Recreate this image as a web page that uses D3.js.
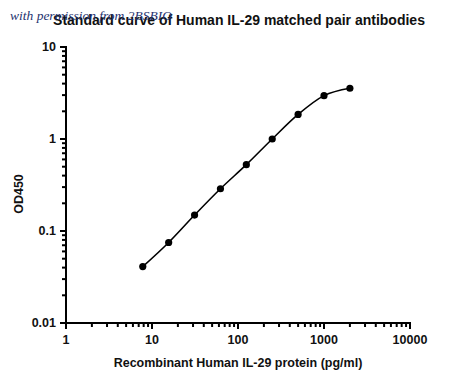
<!DOCTYPE html>
<meta charset="utf-8">
<script src="https://d3js.org/d3.v7.min.js"></script>
<style>
  body { margin: 0; background: #fff; overflow: hidden; }
  svg { display: block; }
</style>
<div id="chart"></div>
<script>

// standard curve data
var conc = [7.8125, 15.625, 31.25, 62.5, 125, 250, 500, 1000, 2000];
var od = [0.041, 0.075, 0.149, 0.288, 0.526, 1.0, 1.85, 2.96, 3.56];
var xTicks = [1, 10, 100, 1000, 10000];
var xTickLabels = ["1", "10", "100", "1000", "10000"];
var yTicks = [0.01, 0.1, 1, 10];
var yTickLabels = ["0.01", "0.1", "1", "10"];

var FONT = "Arial, 'Liberation Sans', sans-serif";

var svg = d3.select("#chart").append("svg")
    .attr("width", 450)
    .attr("height", 381);

var xs = d3.scaleLog().domain([1, 10000]).range([66, 410]);
var ys = d3.scaleLog().domain([0.01, 10]).range([323, 47]);

// minor tick positions (2..9 in every decade)
var xMinor = [], yMinor = [];
xTicks.slice(0, -1).forEach(function(t) {
  for (var k = 2; k < 10; k++) xMinor.push(t * k);
});
yTicks.slice(0, -1).forEach(function(t) {
  for (var k = 2; k < 10; k++) yMinor.push(t * k);
});

var axes = svg.append("g")
    .attr("stroke", "#000")
    .attr("stroke-width", 2);

// axis lines
axes.append("line")
    .attr("x1", xs(1) - 1).attr("x2", xs(10000) + 1)
    .attr("y1", ys(0.01)).attr("y2", ys(0.01));
axes.append("line")
    .attr("x1", xs(1)).attr("x2", xs(1))
    .attr("y1", ys(10) - 1).attr("y2", ys(0.01) + 1);

// x ticks
axes.selectAll("line.xmin").data(xMinor).enter().append("line")
    .attr("x1", function(d) { return xs(d); }).attr("x2", function(d) { return xs(d); })
    .attr("y1", ys(0.01)).attr("y2", ys(0.01) + 4);
axes.selectAll("line.xmaj").data(xTicks).enter().append("line")
    .attr("x1", function(d) { return xs(d); }).attr("x2", function(d) { return xs(d); })
    .attr("y1", ys(0.01)).attr("y2", ys(0.01) + 6);

// y ticks
axes.selectAll("line.ymin").data(yMinor).enter().append("line")
    .attr("y1", function(d) { return ys(d); }).attr("y2", function(d) { return ys(d); })
    .attr("x1", xs(1)).attr("x2", xs(1) - 4);
axes.selectAll("line.ymaj").data(yTicks).enter().append("line")
    .attr("y1", function(d) { return ys(d); }).attr("y2", function(d) { return ys(d); })
    .attr("x1", xs(1)).attr("x2", xs(1) - 6);

// tick labels
svg.selectAll("text.xt").data(xTicks).enter().append("text")
    .attr("x", function(d) { return xs(d); })
    .attr("y", 344)
    .attr("text-anchor", "middle")
    .attr("font-family", FONT).attr("font-size", 12.5).attr("font-weight", "bold")
    .attr("fill", "#111")
    .text(function(d, i) { return xTickLabels[i]; });

svg.selectAll("text.yt").data(yTicks).enter().append("text")
    .attr("x", 56)
    .attr("y", function(d) { return ys(d); })
    .attr("dy", "0.35em")
    .attr("text-anchor", "end")
    .attr("font-family", FONT).attr("font-size", 12.5).attr("font-weight", "bold")
    .attr("fill", "#111")
    .text(function(d, i) { return yTickLabels[i]; });

// curve
var pts = conc.map(function(c, i) { return [xs(c), ys(od[i])]; });
svg.append("path")
    .attr("d", d3.line().curve(d3.curveMonotoneX)(pts))
    .attr("fill", "none")
    .attr("stroke", "#000")
    .attr("stroke-width", 1.6);

svg.selectAll("circle.pt")
    .data(pts)
    .enter().append("circle")
    .attr("class", "pt")
    .attr("cx", function(d) { return d[0]; })
    .attr("cy", function(d) { return d[1]; })
    .attr("r", 3.6)
    .attr("fill", "#000");

// title + labels
svg.append("text")
    .attr("x", 239).attr("y", 25)
    .attr("text-anchor", "middle")
    .attr("font-family", FONT).attr("font-size", 14).attr("font-weight", "bold")
    .attr("fill", "#111")
    .text("Standard curve of Human IL-29 matched pair antibodies");

svg.append("text")
    .attr("x", 10).attr("y", 20)
    .attr("font-family", "'Liberation Serif', 'DejaVu Serif', serif")
    .attr("font-style", "italic")
    .attr("font-size", 13.5)
    .attr("fill", "#1f3370")
    .text("with permission from 2BSBIO");

svg.append("text")
    .attr("x", 238).attr("y", 367)
    .attr("text-anchor", "middle")
    .attr("font-family", FONT).attr("font-size", 12.5).attr("font-weight", "bold")
    .attr("fill", "#111")
    .text("Recombinant Human IL-29 protein (pg/ml)");

svg.append("text")
    .attr("transform", "translate(23,194) rotate(-90)")
    .attr("text-anchor", "middle")
    .attr("font-family", FONT).attr("font-size", 12.5).attr("font-weight", "bold")
    .attr("fill", "#111")
    .text("OD450");

</script>
